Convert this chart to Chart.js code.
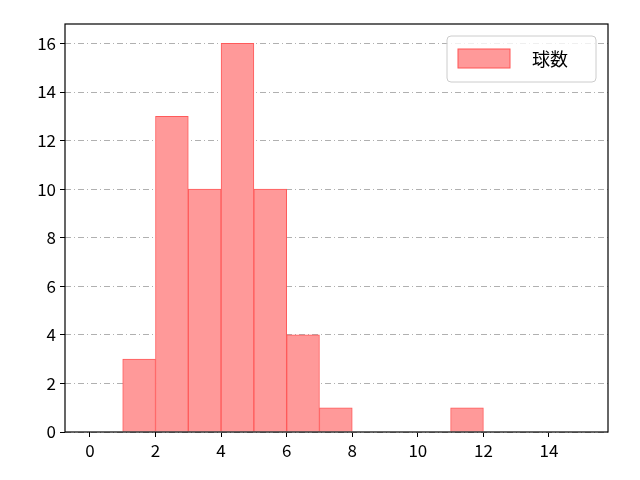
<!DOCTYPE html>
<html><head><meta charset="utf-8">
<script src="https://cdn.jsdelivr.net/npm/chart.js@4"></script>
<style>body{margin:0}#w{width:640px;height:480px}</style></head>
<body><div id="w"><canvas id="c"></canvas></div>
<script>
const binCenters=[1.5,2.5,3.5,4.5,5.5,6.5,7.5,11.5];
const counts=[3,13,10,16,10,4,1,1];
const xTicks=[0,2,4,6,8,10,12,14];
const yTicks=[0,2,4,6,8,10,12,14,16];
const seriesName='球数';
const F='"Noto Sans CJK JP", "DejaVu Sans", sans-serif';
const frame={id:'frame',afterDraw(ch){const a=ch.chartArea,g=ch.ctx;g.save();g.strokeStyle='#000';g.lineWidth=1.2;g.strokeRect(a.left,a.top,a.right-a.left,a.bottom-a.top);
g.fillStyle='rgba(255,255,255,0.8)';g.strokeStyle='#ccc';g.lineWidth=1;
const x=447,y=36,w=149,h=46,r=4;g.beginPath();g.roundRect(x,y,w,h,r);g.fill();g.stroke();
g.fillStyle='rgba(255,153,153,1)';g.strokeStyle='#ff5555';g.fillRect(458,49,52,19);g.strokeRect(458,49,52,19);
g.fillStyle='#000';g.font='18px '+F;g.textBaseline='middle';g.fillText(seriesName,532,59);g.restore();}};
new Chart(document.getElementById('c'),{type:'bar',
data:{datasets:[{data:binCenters.map((x,i)=>({x,y:counts[i]})),backgroundColor:'rgba(255,153,153,1)',borderColor:'#ff5a5a',borderWidth:1,barPercentage:1,categoryPercentage:1}]},
options:{responsive:true,maintainAspectRatio:false,animation:false,
layout:{padding:{left:0,right:32,top:24,bottom:0}},
plugins:{legend:{display:false},tooltip:{enabled:false}},
scales:{
x:{type:'linear',offset:false,min:-0.76,max:15.8,afterFit(s){s.height=48},afterBuildTicks(s){s.ticks=xTicks.map(v=>({value:v}))},
grid:{offset:false,drawOnChartArea:false,tickLength:5,color:'#000'},border:{display:false},ticks:{font:{size:17,family:F},color:'#000',padding:3}},
y:{min:0,max:16.8,afterFit(s){s.width=65},afterBuildTicks(s){s.ticks=yTicks.map(v=>({value:v}))},
grid:{color:'#b0b0b0',tickColor:'#000',tickLength:5,borderDash:[6,3,1,3]},border:{display:false,dash:[6,3,1,3]},
ticks:{font:{size:17,family:F},color:'#000',padding:4}}}},
plugins:[frame]});
</script></body></html>
